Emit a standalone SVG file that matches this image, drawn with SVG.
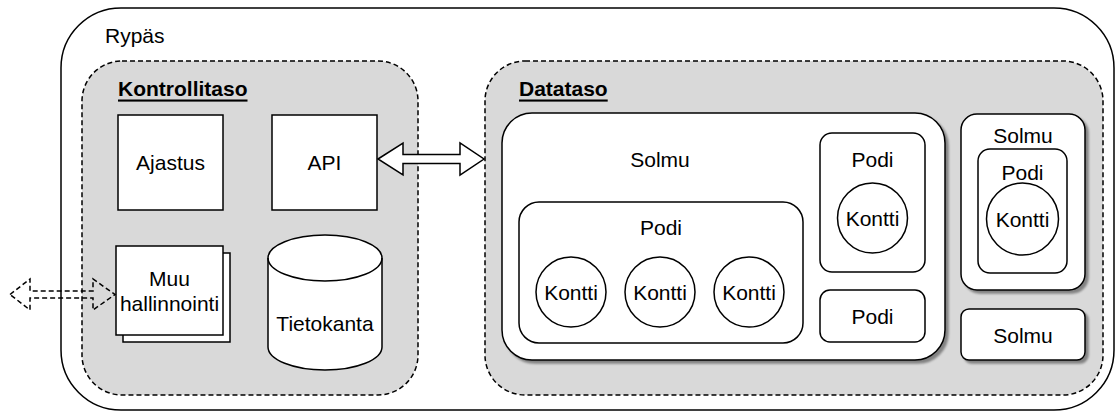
<svg xmlns="http://www.w3.org/2000/svg" width="1119" height="412" viewBox="0 0 1119 412">
<defs>
<filter id="sh" x="-10%" y="-10%" width="130%" height="130%">
<feDropShadow dx="3" dy="3" stdDeviation="1" flood-color="#000" flood-opacity="0.4"/>
</filter>
</defs>
<style>
text{font-family:"Liberation Sans",Arial,sans-serif;font-size:21px;fill:#000;text-anchor:middle;dominant-baseline:central}
.box{fill:#fff;stroke:#000;stroke-width:1.5}
.plane{fill:#d9d9d9;stroke:#000;stroke-width:1.5;stroke-dasharray:5 3}
.title{font-weight:bold;text-decoration:underline;text-anchor:start}
.sh{filter:url(#sh)}
</style>
<g id="rypas">
<rect x="61" y="8" width="1053" height="402" rx="60" fill="#fff" stroke="#000" stroke-width="1.5"/>
<text x="105" y="35" style="text-anchor:start">Rypäs</text>
</g>
<g id="kontrollitaso">
<rect class="plane" x="82" y="61" width="336" height="334" rx="40"/>
<text class="title" x="118" y="88">Kontrollitaso</text>
</g>
<g id="datataso">
<rect class="plane" x="485" y="61" width="618" height="334" rx="40"/>
<text class="title" x="519" y="88">Datataso</text>
</g>
<g id="ajastus">
<rect class="box" x="118" y="115" width="105" height="95"/>
<text x="170.5" y="162">Ajastus</text>
</g>
<g id="api">
<rect class="box" x="272" y="115" width="105" height="95"/>
<text x="324.5" y="162">API</text>
</g>
<g id="muu">
<rect class="box" x="123" y="253" width="107" height="89"/>
<rect class="box" x="116" y="246" width="107" height="89"/>
<text x="169.5" y="278">Muu</text>
<text x="169.5" y="303">hallinnointi</text>
</g>
<g id="tietokanta">
<path class="box" d="M268 258 A57 23 0 0 1 382 258 L382 347 A57 23 0 0 1 268 347 Z"/>
<path d="M268 258 A57 23 0 0 0 382 258" fill="none" stroke="#000" stroke-width="1.5"/>
<text x="325" y="323">Tietokanta</text>
</g>
<g id="solmu1">
<rect class="box sh" x="502" y="113" width="443" height="247" rx="30"/>
<text x="660" y="159">Solmu</text>
</g>
<g id="podi1">
<rect class="box" x="519" y="202" width="284" height="141" rx="20"/>
<text x="661" y="227">Podi</text>
</g>
<g id="kontti1">
<circle class="box" cx="571" cy="292" r="35"/>
<text x="571" y="292">Kontti</text>
</g>
<g id="kontti2">
<circle class="box" cx="660" cy="292" r="35"/>
<text x="660" y="292">Kontti</text>
</g>
<g id="kontti3">
<circle class="box" cx="749" cy="292" r="35"/>
<text x="749" y="292">Kontti</text>
</g>
<g id="podi2">
<rect class="box" x="820" y="133" width="105" height="139" rx="12"/>
<text x="872.5" y="159">Podi</text>
</g>
<g id="kontti4">
<circle class="box" cx="872.5" cy="218" r="35"/>
<text x="872.5" y="218">Kontti</text>
</g>
<g id="podi3">
<rect class="box" x="820" y="290" width="105" height="52" rx="10"/>
<text x="872.5" y="316">Podi</text>
</g>
<g id="solmu2">
<rect class="box sh" x="961" y="114" width="124" height="176" rx="16"/>
<text x="1023" y="135">Solmu</text>
</g>
<g id="podi4">
<rect class="box" x="978" y="149" width="89" height="124" rx="12"/>
<text x="1022.5" y="172">Podi</text>
</g>
<g id="kontti5">
<circle class="box" cx="1022.5" cy="219" r="36"/>
<text x="1022.5" y="219">Kontti</text>
</g>
<g id="solmu3">
<rect class="box sh" x="961" y="309" width="124" height="51" rx="8"/>
<text x="1023" y="335">Solmu</text>
</g>
<g id="connectors">
<path d="M378 159 L403 143 L403 154.5 L460 154.5 L460 143 L484 159 L460 175 L460 163.5 L403 163.5 L403 175 Z" fill="#fff" stroke="#000" stroke-width="1.5"/>
<path d="M10 294.5 L30 279 L30 291 L93 291 L93 279 L115 294.5 L93 310 L93 298 L30 298 L30 310 Z" fill="none" stroke="#000" stroke-width="1.5" stroke-dasharray="5 3"/>
</g>
</svg>
